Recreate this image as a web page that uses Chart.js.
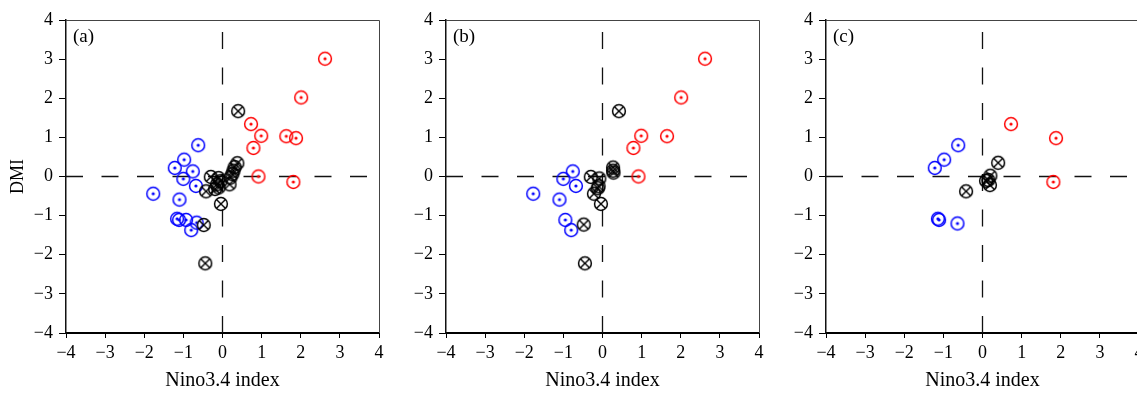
<!DOCTYPE html>
<html>
<head>
<meta charset="utf-8">
<script src="https://cdn.jsdelivr.net/npm/chart.js@4.4.1/dist/chart.umd.min.js"></script>
<style>
    html, body { margin: 0; padding: 0; background: #fff; overflow: hidden; width: 1137px; height: 393px; }
    .panel { position: absolute; top: 0; width: 390px; height: 393px; }
</style>
</head>
<body>
<div class="panel" style="left:0"><canvas id="chartA"></canvas></div>
<div class="panel" style="left:380px"><canvas id="chartB"></canvas></div>
<div class="panel" style="left:760px"><canvas id="chartC"></canvas></div>
<script>
// Axis ticks and labels
const tickValues = [-4, -3, -2, -1, 0, 1, 2, 3, 4];
const panelLabels = ['(a)', '(b)', '(c)'];
const xTitle = 'Nino3.4 index';
const yTitle = 'DMI';

// Panel (a): [Nino3.4, DMI]
const warmA = [[2.62, 3.01], [2.01, 2.02], [0.73, 1.34], [0.99, 1.04], [1.63, 1.03], [1.88, 0.98], [0.79, 0.73], [0.92, 0.00], [1.81, -0.14]];
const coldA = [[-0.62, 0.80], [-0.98, 0.43], [-1.22, 0.22], [-0.76, 0.13], [-1.00, -0.06], [-0.68, -0.24], [-1.77, -0.44], [-1.10, -0.59], [-1.16, -1.08], [-1.11, -1.11], [-0.93, -1.11], [-0.66, -1.18], [-0.80, -1.37]];
const neutA = [[0.40, 1.67], [0.38, 0.34], [0.31, 0.24], [0.28, 0.15], [0.25, 0.06], [0.20, -0.03], [0.18, -0.20], [-0.30, -0.01], [-0.10, -0.04], [-0.05, -0.12], [-0.14, -0.20], [-0.10, -0.28], [-0.19, -0.32], [-0.42, -0.38], [-0.04, -0.70], [-0.48, -1.24], [-0.44, -2.22]];

// Panel (b)
const warmB = [[2.62, 3.01], [2.01, 2.02], [0.99, 1.04], [1.65, 1.03], [0.79, 0.73], [0.92, 0.00]];
const coldB = [[-0.76, 0.13], [-1.00, -0.06], [-0.68, -0.24], [-1.77, -0.44], [-1.10, -0.59], [-0.95, -1.11], [-0.80, -1.37]];
const neutB = [[0.42, 1.67], [0.27, 0.23], [0.27, 0.15], [0.28, 0.10], [-0.30, -0.01], [-0.08, -0.05], [-0.10, -0.25], [-0.12, -0.30], [-0.22, -0.44], [-0.04, -0.70], [-0.48, -1.23], [-0.45, -2.22]];

// Panel (c)
const warmC = [[0.73, 1.34], [1.88, 0.98], [1.81, -0.14]];
const coldC = [[-0.62, 0.80], [-0.98, 0.43], [-1.22, 0.22], [-1.14, -1.08], [-1.11, -1.11], [-0.64, -1.20]];
const neutC = [[0.40, 0.35], [0.20, 0.02], [0.15, -0.09], [0.09, -0.11], [0.19, -0.22], [-0.42, -0.38]];

const serif = '"Liberation Serif", "Times New Roman", serif';

// circle marker, with a centre dot or a cross
function makeMarker(color, crossed) {
    const c = document.createElement('canvas');
    c.width = 18; c.height = 18;
    const ctx = c.getContext('2d');
    const r = 6.4;
    ctx.strokeStyle = color;
    ctx.fillStyle = color;
    ctx.lineWidth = 1.5;
    ctx.beginPath();
    ctx.arc(9, 9, r, 0, Math.PI * 2);
    ctx.stroke();
    if (crossed) {
        const d = r * 0.7071;
        ctx.lineWidth = 1.4;
        ctx.beginPath();
        ctx.moveTo(9 - d, 9 - d); ctx.lineTo(9 + d, 9 + d);
        ctx.moveTo(9 + d, 9 - d); ctx.lineTo(9 - d, 9 + d);
        ctx.stroke();
    } else {
        ctx.beginPath();
        ctx.arc(9, 9, 1.6, 0, Math.PI * 2);
        ctx.fill();
    }
    return c;
}

const redMarker = makeMarker('#ff0000', false);
const blueMarker = makeMarker('#0000ff', false);
const blackMarker = makeMarker('#000000', true);

// dashed zero lines, top/right frame and panel letter
const framePlugin = {
    id: 'frame',
    beforeDatasetsDraw(chart, args, opts) {
        const { ctx, chartArea: a, scales } = chart;
        const x0 = scales.x.getPixelForValue(0);
        const y0 = scales.y.getPixelForValue(0);
        ctx.save();
        ctx.strokeStyle = '#111';
        ctx.lineWidth = 1.3;
        ctx.setLineDash([17, 18.5]);
        ctx.beginPath();
        ctx.moveTo(a.left, y0); ctx.lineTo(a.right, y0);
        ctx.stroke();
        ctx.beginPath();
        ctx.moveTo(x0, a.bottom); ctx.lineTo(x0, a.top);
        ctx.stroke();
        ctx.setLineDash([]);
        ctx.strokeStyle = '#444';
        ctx.lineWidth = 1;
        ctx.beginPath();
        ctx.moveTo(a.left, a.top + 0.5);
        ctx.lineTo(a.right + 0.5, a.top + 0.5);
        ctx.lineTo(a.right + 0.5, a.bottom);
        ctx.stroke();
        ctx.fillStyle = '#000';
        ctx.font = '19px ' + serif;
        ctx.textBaseline = 'middle';
        ctx.fillText(opts.label, a.left + 7, a.top + 17);
        ctx.restore();
    }
};

function fmtTick(v) {
    return v < 0 ? '\u2212' + Math.abs(v) : String(v);
}

function toPoints(list) {
    return list.map(p => ({ x: p[0], y: p[1] }));
}

function buildChart(id, label, warm, cold, neut, showY) {
    new Chart(document.getElementById(id), {
        type: 'scatter',
        data: {
            datasets: [
                { data: toPoints(neut), pointStyle: blackMarker, pointRadius: 7 },
                { data: toPoints(warm), pointStyle: redMarker, pointRadius: 7 },
                { data: toPoints(cold), pointStyle: blueMarker, pointRadius: 7 }
            ]
        },
        options: {
            responsive: true,
            maintainAspectRatio: false,
            animation: false,
            devicePixelRatio: 1,
            layout: { padding: { left: 0, right: 11, top: 20, bottom: 0 } },
            plugins: {
                legend: { display: false },
                tooltip: { enabled: false },
                frame: { label: label }
            },
            scales: {
                x: {
                    type: 'linear', min: -4, max: 4,
                    afterBuildTicks: ax => { ax.ticks = tickValues.map(v => ({ value: v })); },
                    afterFit: ax => { ax.height = 60; },
                    grid: { drawOnChartArea: false, drawTicks: true, tickLength: 5, color: '#000', lineWidth: 1 },
                    border: { display: true, color: '#000', width: 2 },
                    ticks: { font: { family: serif, size: 18 }, color: '#000', padding: 4, maxRotation: 0, autoSkip: false, callback: fmtTick },
                    title: { display: true, text: xTitle, font: { family: serif, size: 20 }, color: '#000', padding: { top: 0, bottom: 0 } }
                },
                y: {
                    type: 'linear', min: -4, max: 4,
                    afterBuildTicks: ax => { ax.ticks = tickValues.map(v => ({ value: v })); },
                    afterFit: ax => { ax.width = 66; },
                    grid: { drawOnChartArea: false, drawTicks: true, tickLength: 7, color: '#000', lineWidth: 1 },
                    border: { display: true, color: '#111', width: 1.5 },
                    ticks: { font: { family: serif, size: 18 }, color: '#000', padding: 6, autoSkip: false, callback: fmtTick },
                    title: { display: showY, text: yTitle, font: { family: serif, size: 18 }, color: '#000', padding: { top: 7, bottom: 0 } }
                }
            }
        },
        plugins: [framePlugin]
    });
}

buildChart('chartA', panelLabels[0], warmA, coldA, neutA, true);
buildChart('chartB', panelLabels[1], warmB, coldB, neutB, false);
buildChart('chartC', panelLabels[2], warmC, coldC, neutC, false);
</script>
</body>
</html>
